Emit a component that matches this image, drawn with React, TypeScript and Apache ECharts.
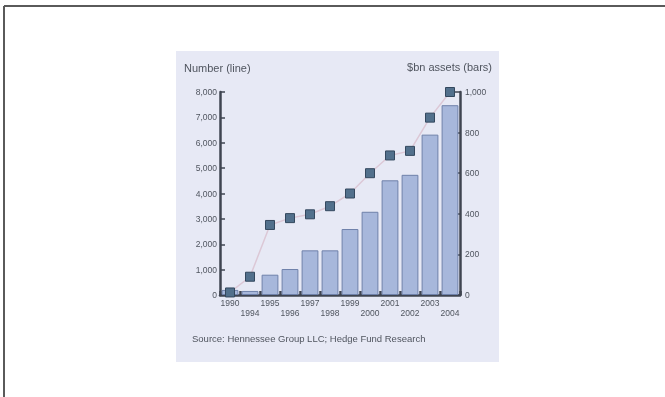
import React, { useEffect, useRef } from "react";
import * as echarts from "echarts";

const years = ["1990", "1994", "1995", "1996", "1997", "1998", "1999", "2000", "2001", "2002", "2003", "2004"];
const fundCount = [100, 720, 2760, 3030, 3180, 3500, 4000, 4800, 5500, 5680, 6990, 8000];
const assetsBn = [25, 20, 100, 128, 220, 220, 325, 410, 565, 592, 790, 935];
const leftTitle = "Number (line)";
const rightTitle = "$bn assets (bars)";
const sourceText = "Source: Hennessee Group LLC; Hedge Fund Research";

const FONT = "Liberation Sans";
const TXT = "#50555f";

export default function App() {
  const ref = useRef<HTMLDivElement>(null);
  useEffect(() => {
    if (!ref.current) return;
    const chart = echarts.init(ref.current, undefined, { renderer: "svg" });
    chart.setOption({
      animation: false,
      backgroundColor: "#ffffff",
      grid: { left: 220, right: 205, top: 92, bottom: 102, containLabel: false },
      graphic: [
        { type: "line", z: -20, shape: { x1: 4, y1: 6, x2: 665, y2: 6 }, style: { stroke: "#5a5a5a", lineWidth: 2 } },
        { type: "line", z: -20, shape: { x1: 4, y1: 6, x2: 4, y2: 397 }, style: { stroke: "#5a5a5a", lineWidth: 2 } },
        { type: "rect", z: -10, shape: { x: 176, y: 51, width: 323, height: 311 }, style: { fill: "#e7e9f5" } },
        { type: "text", x: 184, y: 68, style: { text: leftTitle, fill: TXT, font: `11px ${FONT}`, textVerticalAlign: "middle", textAlign: "left" } },
        { type: "text", x: 492, y: 67, style: { text: rightTitle, fill: TXT, font: `11px ${FONT}`, textVerticalAlign: "middle", textAlign: "right" } },
        { type: "text", x: 192, y: 338, style: { text: sourceText, fill: TXT, font: `9.5px ${FONT}`, textVerticalAlign: "middle", textAlign: "left" } },
      ],
      xAxis: {
        type: "category",
        data: years,
        boundaryGap: true,
        axisLine: { lineStyle: { color: "#3f4450", width: 2.5 } },
        axisTick: { show: true, inside: true, length: 4, lineStyle: { color: "#3f4450", width: 2.5 } },
        axisLabel: {
          interval: 0,
          color: TXT,
          fontFamily: FONT,
          fontSize: 8.5,
          lineHeight: 10,
          margin: 3,
          formatter: (v: string, i: number) => (i % 2 === 0 ? v : "\n" + v),
        },
      },
      yAxis: [
        {
          type: "value",
          min: 0,
          max: 8000,
          interval: 1000,
          position: "left",
          splitLine: { show: false },
          axisLine: { show: true, lineStyle: { color: "#3f4450", width: 2.5 } },
          axisTick: { show: true, inside: true, length: 5, lineStyle: { color: "#3f4450", width: 1.5 } },
          axisLabel: {
            color: TXT,
            fontFamily: FONT,
            fontSize: 8.5,
            margin: 3,
            formatter: (v: number) => v.toLocaleString("en-US"),
          },
        },
        {
          type: "value",
          min: 0,
          max: 1000,
          interval: 200,
          position: "right",
          splitLine: { show: false },
          axisLine: { show: true, lineStyle: { color: "#3f4450", width: 2.5 } },
          axisTick: { show: true, inside: true, length: 5, lineStyle: { color: "#3f4450", width: 1.5 } },
          axisLabel: {
            color: TXT,
            fontFamily: FONT,
            fontSize: 8.5,
            margin: 5,
            formatter: (v: number) => v.toLocaleString("en-US"),
          },
        },
      ],
      series: [
        {
          type: "bar",
          yAxisIndex: 1,
          data: assetsBn,
          barCategoryGap: "16%",
          itemStyle: { color: "#a7b7db", borderColor: "#6f81aa", borderWidth: 1 },
          z: 2,
        },
        {
          type: "line",
          yAxisIndex: 0,
          data: fundCount,
          symbol: "rect",
          symbolSize: 9,
          clip: false,
          lineStyle: { color: "#dcc8d6", width: 1.5 },
          itemStyle: { color: "#52708c", borderColor: "#34485e", borderWidth: 1 },
          z: 3,
        },
      ],
    });
    return () => chart.dispose();
  }, []);
  return (
    <div
      ref={ref}
      style={{ position: "fixed", left: 0, top: 0, width: 665, height: 397, filter: "blur(0.6px)" }}
    />
  );
}
